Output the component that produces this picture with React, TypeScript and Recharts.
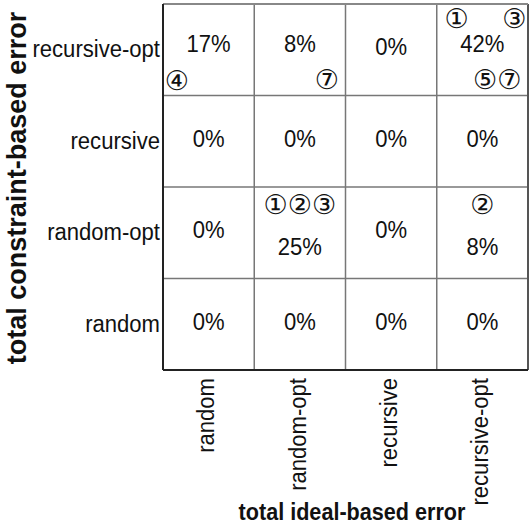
import React from 'react';
import { ScatterChart, Scatter, XAxis, YAxis, ReferenceLine } from 'recharts';

// ideal-based error (x), left to right
const COLS = ['random', 'random-opt', 'recursive', 'recursive-opt'];
// constraint-based error (y), bottom to top
const ROWS = ['random', 'random-opt', 'recursive', 'recursive-opt'];

// percent of cases, one row per ROWS entry, one value per COLS entry
const SHARE_RANDOM = [0, 0, 0, 0];
const SHARE_RANDOM_OPT = [0, 25, 0, 8];
const SHARE_RECURSIVE = [0, 0, 0, 0];
const SHARE_RECURSIVE_OPT = [17, 8, 0, 42];
const SHARES = [SHARE_RANDOM, SHARE_RANDOM_OPT, SHARE_RECURSIVE, SHARE_RECURSIVE_OPT];

// circled case numbers written in a cell corner
const MARKS = [
  { row: 'recursive-opt', col: 'random', text: '④', at: 'bl' },
  { row: 'recursive-opt', col: 'random-opt', text: '⑦', at: 'br' },
  { row: 'recursive-opt', col: 'recursive-opt', text: '①', at: 'tl' },
  { row: 'recursive-opt', col: 'recursive-opt', text: '③', at: 'tr' },
  { row: 'recursive-opt', col: 'recursive-opt', text: '⑤⑦', at: 'br' },
  { row: 'random-opt', col: 'random-opt', text: '①②③', at: 'tc' },
  { row: 'random-opt', col: 'recursive-opt', text: '②', at: 'tc' },
];

const FONT = '"Liberation Sans", Arial, sans-serif';
const MARK_FONT = '"DejaVu Sans", sans-serif';

const cells = ROWS.flatMap((r, ri) =>
  COLS.map((c, ci) => {
    const marks = MARKS.filter((m) => m.row === r && m.col === c);
    return {
      x: ci + 0.5,
      y: ri + 0.5,
      value: SHARES[ri][ci],
      top: marks.some((m) => m.at[0] === 't'),
      bottom: marks.some((m) => m.at[0] === 'b'),
    };
  })
);

const marks = MARKS.map((m) => ({
  x: COLS.indexOf(m.col) + 0.5,
  y: ROWS.indexOf(m.row) + 0.5,
  text: m.text,
  at: m.at,
}));

const ANCHORS: Record<string, { dx: number; dy: number; anchor: string }> = {
  tl: { dx: -38, dy: -31, anchor: 'start' },
  tr: { dx: 44, dy: -31, anchor: 'end' },
  tc: { dx: 0, dy: -28, anchor: 'middle' },
  bl: { dx: -44, dy: 31, anchor: 'start' },
  br: { dx: 39, dy: 30, anchor: 'end' },
};

// condensed text: the original lettering is narrower than Liberation Sans
const NText = ({ x, y, rotate = 0, sx = 0.92, anchor = 'middle', size = 24, bold = false, children }: any) => (
  <text transform={`translate(${x}, ${y}) rotate(${rotate}) scale(${sx}, 1)`} x={0} y={0}
    textAnchor={anchor} dominantBaseline="central" fontFamily={FONT} fontSize={size}
    fontWeight={bold ? 'bold' : 'normal'} fill="#111">
    {children}
  </text>
);

const CellText = (props: any) => {
  const { cx, cy, payload } = props;
  let shift = -3;
  if (payload.top && !payload.bottom) shift = 14;
  else if (payload.bottom || payload.top) shift = -6;
  return <NText x={cx} y={cy + shift}>{payload.value}%</NText>;
};

const MarkText = (props: any) => {
  const { cx, cy, payload } = props;
  const a = ANCHORS[payload.at];
  return (
    <text x={cx + a.dx} y={cy + a.dy} textAnchor={a.anchor} dominantBaseline="central"
      fontFamily={MARK_FONT} fontSize={27} fill="#111">
      {payload.text}
    </text>
  );
};

const XTick = (props: any) => {
  const { x, y, payload } = props;
  return (
    <NText x={x - 2} y={y} rotate={-90} anchor="end" size={23} sx={0.96}>
      {COLS[Math.floor(payload.value)]}
    </NText>
  );
};

const YTick = (props: any) => {
  const { x, y, payload } = props;
  return (
    <NText x={x + 5} y={y} anchor="end" size={23} sx={0.96}>
      {ROWS[Math.floor(payload.value)]}
    </NText>
  );
};

const TICKS = [0.5, 1.5, 2.5, 3.5];
const INNER = [1, 2, 3];
const EDGE = [4];

export default function App() {
  return (
    <div style={{ position: 'absolute', left: 0, top: 0, width: 531, height: 527, background: '#fff' }}>
      <ScatterChart width={531} height={527} margin={{ top: 4, right: 3, bottom: 0, left: 0 }}>
        <XAxis type="number" dataKey="x" domain={[0, 4]} ticks={TICKS} height={157}
          tick={<XTick />} tickLine={false} axisLine={{ stroke: '#222', strokeWidth: 2 }}
          interval={0} />
        <YAxis type="number" dataKey="y" domain={[0, 4]} ticks={TICKS} width={163}
          tick={<YTick />} tickLine={false} axisLine={{ stroke: '#222', strokeWidth: 2 }}
          interval={0} />
        {INNER.map((v) => (
          <ReferenceLine key={`x${v}`} x={v} stroke="#777" strokeWidth={1.5} />
        ))}
        {INNER.map((v) => (
          <ReferenceLine key={`y${v}`} y={v} stroke="#777" strokeWidth={1.5} />
        ))}
        {EDGE.map((v) => (
          <ReferenceLine key={`ex${v}`} x={v} stroke="#555" strokeWidth={2} ifOverflow="visible" />
        ))}
        {EDGE.map((v) => (
          <ReferenceLine key={`ey${v}`} y={v} stroke="#888" strokeWidth={2} ifOverflow="visible" />
        ))}
        <Scatter data={cells} shape={<CellText />} isAnimationActive={false} />
        <Scatter data={marks} shape={<MarkText />} isAnimationActive={false} />
        <NText x={17} y={188} rotate={-90} size={27} sx={1} bold>
          total constraint-based error
        </NText>
        <NText x={352} y={512} size={24} sx={0.9} bold>
          total ideal-based error
        </NText>
      </ScatterChart>
    </div>
  );
}
